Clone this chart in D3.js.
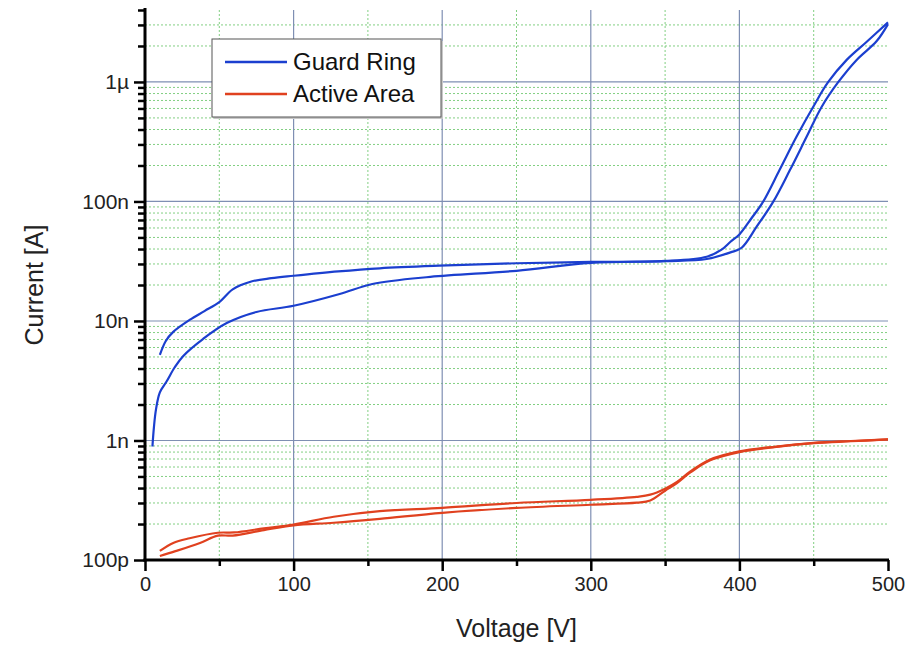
<!DOCTYPE html>
<html lang="en">
<head>
    <meta charset="UTF-8">
    <title>Guard Ring / Active Area IV</title>
    <script src="https://d3js.org/d3.v7.min.js"></script>
    <style>
        body {
            margin: 0;
            background: #ffffff;
            font-family: 'Liberation Sans', Arial, sans-serif;
        }
        svg { display: block; }
        .axis path, .axis line { stroke: #000; }
        .axis text { font-family: 'Liberation Sans', Arial, sans-serif; fill: #222; }
    </style>
</head>
<body>
    <svg id="chart" width="913" height="646"></svg>

    <script>
        // guard ring, two sweeps (V, A)
        const guardRingA = [
            [10, 5.2e-9], [14, 6.8e-9], [19, 8.1e-9], [30, 10.2e-9], [40, 12.1e-9], [50, 14.4e-9],
            [59, 18.4e-9], [71, 21.3e-9], [85, 22.8e-9], [100, 23.9e-9], [130, 26e-9], [158, 27.6e-9],
            [198, 29e-9], [250, 30.4e-9], [300, 31.2e-9], [350, 31.8e-9], [378, 34.5e-9], [388, 39.5e-9],
            [394, 46e-9], [400, 53e-9], [408, 72e-9], [416, 99.6e-9], [427, 183e-9], [438.5, 349e-9],
            [449.7, 621e-9], [459.8, 1.0e-6], [472.2, 1.53e-6], [485.7, 2.17e-6], [500, 3.15e-6]
        ];
        const guardRingB = [
            [5, 0.89e-9], [6, 1.29e-9], [7.4, 1.82e-9], [10, 2.53e-9], [14.6, 3.13e-9], [20, 4.1e-9],
            [25.6, 5.08e-9], [39, 7.06e-9], [55, 9.6e-9], [75, 11.9e-9], [100, 13.4e-9], [131, 16.8e-9],
            [153, 20.4e-9], [192, 23.4e-9], [250, 26.3e-9], [300, 30.6e-9], [350, 31.6e-9], [378, 33e-9],
            [394, 37.5e-9], [401.5, 41e-9], [411.6, 61.5e-9], [422.8, 99.6e-9], [434, 183e-9],
            [445.3, 349e-9], [455.4, 621e-9], [466.6, 1.0e-6], [478.9, 1.53e-6], [492.4, 2.2e-6],
            [500, 3.05e-6]
        ];

        // active area, two sweeps (V, A)
        const activeAreaA = [
            [10, 119e-12], [19, 139e-12], [30, 152e-12], [49, 169e-12], [60, 170e-12], [80, 184e-12],
            [100, 198e-12], [127, 230e-12], [158, 256e-12], [200, 273e-12], [250, 300e-12], [300, 319e-12],
            [331, 338e-12], [340, 352e-12], [350, 395e-12], [358, 450e-12], [367, 550e-12], [380, 690e-12],
            [400, 810e-12], [425, 890e-12], [450, 955e-12], [475, 990e-12], [500, 1020e-12]
        ];
        const activeAreaB = [
            [10, 108e-12], [20, 118e-12], [37, 139e-12], [49, 160e-12], [59, 160e-12], [80, 178e-12],
            [100, 195e-12], [127, 205e-12], [158, 221e-12], [200, 248e-12], [250, 273e-12], [300, 290e-12],
            [331, 302e-12], [340, 315e-12], [350, 380e-12], [358, 440e-12], [367, 540e-12], [380, 680e-12],
            [400, 800e-12], [425, 885e-12], [450, 950e-12], [475, 985e-12], [500, 1020e-12]
        ];

        const xTicks = [0, 100, 200, 300, 400, 500];
        const xMinorTicks = [50, 150, 250, 350, 450];
        const yTicks = [1e-10, 1e-9, 1e-8, 1e-7, 1e-6];
        const yTickLabels = ["100p", "1n", "10n", "100n", "1µ"];

        const legendNames = ["Guard Ring", "Active Area"];
        const blue = "#1b3fcf";
        const red = "#e0411f";

        const svg = d3.select("#chart");
        const W = 913, H = 646;
        const mLeft = 145, mRight = 888, mTop = 10, mBottom = 560;

        const x = d3.scaleLinear().domain([0, 500]).range([mLeft, mRight]);
        const y = d3.scaleLog().domain([1e-10, 4e-6]).range([mBottom, mTop]);

        svg.append("rect").attr("width", W).attr("height", H).attr("fill", "#fff");

        // minor y values (2..9 of each decade)
        const yMinor = [];
        yTicks.forEach(d => {
            for (let m = 2; m <= 9; m++) {
                const v = d * m;
                if (v <= 4e-6) yMinor.push(v);
            }
        });

        // grid
        const grid = svg.append("g");
        grid.selectAll("line.hminor")
            .data(yMinor.filter(v => v < 3.9e-6))
            .enter().append("line")
            .attr("x1", mLeft).attr("x2", mRight)
            .attr("y1", d => y(d)).attr("y2", d => y(d))
            .style("stroke", "#82cf82")
            .style("stroke-width", 1)
            .style("stroke-dasharray", "2,2");
        grid.selectAll("line.vminor")
            .data(xMinorTicks)
            .enter().append("line")
            .attr("x1", d => x(d)).attr("x2", d => x(d))
            .attr("y1", mTop).attr("y2", mBottom)
            .style("stroke", "#82cf82")
            .style("stroke-width", 1)
            .style("stroke-dasharray", "2,2");
        grid.selectAll("line.hmajor")
            .data(yTicks.slice(1))
            .enter().append("line")
            .attr("x1", mLeft).attr("x2", mRight)
            .attr("y1", d => y(d)).attr("y2", d => y(d))
            .style("stroke", "#7f8fb3")
            .style("stroke-width", 1.2);
        grid.selectAll("line.vmajor")
            .data(xTicks.slice(1, 5))
            .enter().append("line")
            .attr("x1", d => x(d)).attr("x2", d => x(d))
            .attr("y1", mTop).attr("y2", mBottom)
            .style("stroke", "#7f8fb3")
            .style("stroke-width", 1.2);

        // curves
        const line = d3.line()
            .x(d => x(d[0]))
            .y(d => y(d[1]))
            .curve(d3.curveCatmullRom.alpha(0.5));

        const series = [
            { data: activeAreaA, color: red },
            { data: activeAreaB, color: red },
            { data: guardRingA, color: blue },
            { data: guardRingB, color: blue }
        ];
        svg.append("g").selectAll("path")
            .data(series)
            .enter().append("path")
            .attr("d", d => line(d.data))
            .attr("fill", "none")
            .attr("stroke", d => d.color)
            .attr("stroke-width", 2.2)
            .attr("stroke-linejoin", "round");

        // axes
        const xAxis = svg.append("g")
            .attr("class", "axis")
            .attr("transform", `translate(0,${mBottom})`)
            .call(d3.axisBottom(x).tickValues(xTicks).tickSize(11).tickPadding(6).tickFormat(d3.format("d")));
        xAxis.select(".domain").attr("stroke-width", 3).attr("d", `M${mLeft - 1.5},0H${mRight + 1}`);
        xAxis.selectAll(".tick line").attr("stroke-width", 2.5);
        xAxis.selectAll("text").style("font-size", "20px");

        svg.append("g")
            .attr("class", "axis")
            .attr("transform", `translate(0,${mBottom})`)
            .call(d3.axisBottom(x).tickValues(xMinorTicks).tickSize(6).tickFormat(""))
            .call(g => g.select(".domain").remove())
            .selectAll(".tick line").attr("stroke-width", 2.5);

        const yAxis = svg.append("g")
            .attr("class", "axis")
            .attr("transform", `translate(${mLeft},0)`)
            .call(d3.axisLeft(y).tickValues(yTicks).tickSize(11).tickPadding(5)
                .tickFormat((d, i) => yTickLabels[i]));
        yAxis.select(".domain").attr("stroke-width", 3).attr("d", `M0,${mTop - 2}V${mBottom + 1.5}`);
        yAxis.selectAll(".tick line").attr("stroke-width", 2.5);
        yAxis.selectAll("text").style("font-size", "21px");

        svg.append("g")
            .attr("class", "axis")
            .attr("transform", `translate(${mLeft},0)`)
            .call(d3.axisLeft(y).tickValues(yMinor).tickSize(7).tickFormat(""))
            .call(g => g.select(".domain").remove())
            .selectAll(".tick line").attr("stroke-width", 2.5);

        // axis titles
        svg.append("text")
            .attr("x", (mLeft + mRight) / 2)
            .attr("y", 637)
            .attr("text-anchor", "middle")
            .style("font-size", "25px")
            .style("fill", "#222")
            .text("Voltage [V]");
        svg.append("text")
            .attr("transform", `translate(43,285) rotate(-90)`)
            .attr("text-anchor", "middle")
            .style("font-size", "25px")
            .style("fill", "#222")
            .text("Current [A]");

        // legend
        const lg = svg.append("g");
        lg.append("rect")
            .attr("x", 214).attr("y", 41).attr("width", 229).attr("height", 78)
            .attr("fill", "#c8c8c8");
        lg.append("rect")
            .attr("x", 212).attr("y", 39).attr("width", 229).attr("height", 78)
            .attr("fill", "#fff").attr("stroke", "#555").attr("stroke-width", 1);
        lg.selectAll("line.key")
            .data(legendNames)
            .enter().append("line")
            .attr("x1", 225).attr("x2", 287)
            .attr("y1", (d, i) => 62 + i * 32).attr("y2", (d, i) => 62 + i * 32)
            .attr("stroke", (d, i) => i === 0 ? blue : red)
            .attr("stroke-width", 2.5);
        lg.selectAll("text")
            .data(legendNames)
            .enter().append("text")
            .attr("x", 293)
            .attr("y", (d, i) => 70 + i * 32)
            .style("font-size", "24px")
            .style("fill", "#111")
            .text(d => d);
    </script>
</body>
</html>
